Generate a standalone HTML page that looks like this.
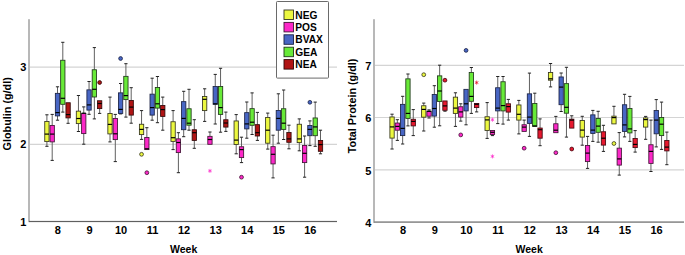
<!DOCTYPE html>
<html><head><meta charset="utf-8"><style>
html,body{margin:0;padding:0;background:#fff;}
body{width:685px;height:255px;overflow:hidden;}
svg{display:block;}
</style></head><body>
<svg width="685" height="255" viewBox="0 0 685 255">
<style>
.t { font-family: "Liberation Sans", sans-serif; font-weight: bold; font-size: 11px; fill: #000; }
.wk { font-size: 10.5px; }
.lg { font-size: 10.2px; }
.ti { font-size: 10.8px; }
.g { stroke: #d4d4d4; stroke-width: 1.2; }
.w { stroke: #606060; stroke-width: 1; }
.c { stroke: #222; stroke-width: 1; }
.b { stroke-width: 0.85; }
.m { stroke: #000; stroke-width: 1.2; }
.ast { font-family: "Liberation Sans", sans-serif; font-size: 8px; text-anchor: middle; }
</style>
<rect width="685" height="255" fill="#fff"/>
<line x1="29.0" y1="144.30" x2="337.0" y2="144.30" class="g"/>
<line x1="29.0" y1="67.10" x2="337.0" y2="67.10" class="g"/>
<rect x="28.0" y="19.2" width="2" height="202.9" fill="#b8b8b8"/>
<rect x="29.0" y="220.9" width="308.0" height="1.2" fill="#606060"/>
<text x="26.4" y="225.6" class="t" text-anchor="end">1</text>
<text x="26.4" y="148.4" class="t" text-anchor="end">2</text>
<text x="26.4" y="71.2" class="t" text-anchor="end">3</text>
<text x="57.9" y="233.6" class="t" text-anchor="middle">8</text>
<text x="89.5" y="233.6" class="t" text-anchor="middle">9</text>
<text x="121.0" y="233.6" class="t" text-anchor="middle">10</text>
<text x="152.6" y="233.6" class="t" text-anchor="middle">11</text>
<text x="184.1" y="233.6" class="t" text-anchor="middle">12</text>
<text x="215.7" y="233.6" class="t" text-anchor="middle">13</text>
<text x="247.2" y="233.6" class="t" text-anchor="middle">14</text>
<text x="278.8" y="233.6" class="t" text-anchor="middle">15</text>
<text x="310.3" y="233.6" class="t" text-anchor="middle">16</text>
<text x="183.7" y="252.6" class="t wk" text-anchor="middle">Week</text>
<text transform="translate(10.6,113.8) rotate(-90)" class="t ti" text-anchor="middle">Globulin (g/dl)</text>
<line x1="374.0" y1="169.90" x2="684.0" y2="169.90" class="g"/>
<line x1="374.0" y1="117.50" x2="684.0" y2="117.50" class="g"/>
<line x1="374.0" y1="65.30" x2="684.0" y2="65.30" class="g"/>
<rect x="373.0" y="19.2" width="2" height="203.7" fill="#b8b8b8"/>
<rect x="374.0" y="221.3" width="310.0" height="1.6" fill="#8c8c8c"/>
<text x="371.4" y="226.8" class="t" text-anchor="end">4</text>
<text x="371.4" y="174.6" class="t" text-anchor="end">5</text>
<text x="371.4" y="122.2" class="t" text-anchor="end">6</text>
<text x="371.4" y="70.0" class="t" text-anchor="end">7</text>
<text x="403.0" y="233.6" class="t" text-anchor="middle">8</text>
<text x="434.7" y="233.6" class="t" text-anchor="middle">9</text>
<text x="466.4" y="233.6" class="t" text-anchor="middle">10</text>
<text x="498.1" y="233.6" class="t" text-anchor="middle">11</text>
<text x="529.8" y="233.6" class="t" text-anchor="middle">12</text>
<text x="561.5" y="233.6" class="t" text-anchor="middle">13</text>
<text x="593.2" y="233.6" class="t" text-anchor="middle">14</text>
<text x="624.9" y="233.6" class="t" text-anchor="middle">15</text>
<text x="656.6" y="233.6" class="t" text-anchor="middle">16</text>
<text x="529.2" y="252.6" class="t wk" text-anchor="middle">Week</text>
<text transform="translate(356.2,105.9) rotate(-90)" class="t ti" text-anchor="middle">Total Protein (g/dl)</text>
<line x1="46.90" y1="114.80" x2="46.90" y2="121.55" class="w"/>
<line x1="45.30" y1="114.80" x2="48.50" y2="114.80" class="c"/>
<line x1="46.90" y1="141.60" x2="46.90" y2="146.30" class="w"/>
<line x1="45.30" y1="146.30" x2="48.50" y2="146.30" class="c"/>
<rect x="44.75" y="121.55" width="4.30" height="20.05" fill="#ecf840" stroke="#34341e" class="b"/>
<line x1="44.75" y1="134.10" x2="49.05" y2="134.10" class="m"/>
<line x1="52.20" y1="114.40" x2="52.20" y2="125.45" class="w"/>
<line x1="50.60" y1="114.40" x2="53.80" y2="114.40" class="c"/>
<line x1="52.20" y1="141.90" x2="52.20" y2="160.40" class="w"/>
<line x1="50.60" y1="160.40" x2="53.80" y2="160.40" class="c"/>
<rect x="50.05" y="125.45" width="4.30" height="16.45" fill="#fc28c8" stroke="#401434" class="b"/>
<line x1="50.05" y1="134.10" x2="54.35" y2="134.10" class="m"/>
<line x1="57.50" y1="86.80" x2="57.50" y2="93.35" class="w"/>
<line x1="55.90" y1="86.80" x2="59.10" y2="86.80" class="c"/>
<line x1="57.50" y1="115.90" x2="57.50" y2="120.20" class="w"/>
<line x1="55.90" y1="120.20" x2="59.10" y2="120.20" class="c"/>
<rect x="55.35" y="93.35" width="4.30" height="22.55" fill="#4866c4" stroke="#1a2244" class="b"/>
<line x1="55.35" y1="112.60" x2="59.65" y2="112.60" class="m"/>
<line x1="62.80" y1="42.30" x2="62.80" y2="60.25" class="w"/>
<line x1="61.20" y1="42.30" x2="64.40" y2="42.30" class="c"/>
<line x1="62.80" y1="104.30" x2="62.80" y2="112.10" class="w"/>
<line x1="61.20" y1="112.10" x2="64.40" y2="112.10" class="c"/>
<rect x="60.65" y="60.25" width="4.30" height="44.05" fill="#68ea38" stroke="#20381a" class="b"/>
<line x1="60.65" y1="98.30" x2="64.95" y2="98.30" class="m"/>
<line x1="68.10" y1="117.90" x2="68.10" y2="123.30" class="w"/>
<line x1="66.50" y1="123.30" x2="69.70" y2="123.30" class="c"/>
<rect x="65.95" y="102.75" width="4.30" height="15.15" fill="#b01414" stroke="#300808" class="b"/>
<line x1="65.95" y1="114.60" x2="70.25" y2="114.60" class="m"/>
<line x1="78.45" y1="95.50" x2="78.45" y2="111.15" class="w"/>
<line x1="76.85" y1="95.50" x2="80.05" y2="95.50" class="c"/>
<line x1="78.45" y1="123.60" x2="78.45" y2="131.50" class="w"/>
<line x1="76.85" y1="131.50" x2="80.05" y2="131.50" class="c"/>
<rect x="76.30" y="111.15" width="4.30" height="12.45" fill="#ecf840" stroke="#34341e" class="b"/>
<line x1="76.30" y1="118.50" x2="80.60" y2="118.50" class="m"/>
<line x1="83.75" y1="106.90" x2="83.75" y2="113.55" class="w"/>
<line x1="82.15" y1="106.90" x2="85.35" y2="106.90" class="c"/>
<line x1="83.75" y1="133.60" x2="83.75" y2="144.20" class="w"/>
<line x1="82.15" y1="144.20" x2="85.35" y2="144.20" class="c"/>
<rect x="81.60" y="113.55" width="4.30" height="20.05" fill="#fc28c8" stroke="#401434" class="b"/>
<line x1="81.60" y1="113.20" x2="85.90" y2="113.20" class="m"/>
<line x1="89.05" y1="81.50" x2="89.05" y2="89.85" class="w"/>
<line x1="87.45" y1="81.50" x2="90.65" y2="81.50" class="c"/>
<line x1="89.05" y1="110.10" x2="89.05" y2="114.30" class="w"/>
<line x1="87.45" y1="114.30" x2="90.65" y2="114.30" class="c"/>
<rect x="86.90" y="89.85" width="4.30" height="20.25" fill="#4866c4" stroke="#1a2244" class="b"/>
<line x1="86.90" y1="104.90" x2="91.20" y2="104.90" class="m"/>
<line x1="94.35" y1="47.60" x2="94.35" y2="69.75" class="w"/>
<line x1="92.75" y1="47.60" x2="95.95" y2="47.60" class="c"/>
<line x1="94.35" y1="97.00" x2="94.35" y2="118.90" class="w"/>
<line x1="92.75" y1="118.90" x2="95.95" y2="118.90" class="c"/>
<rect x="92.20" y="69.75" width="4.30" height="27.25" fill="#68ea38" stroke="#20381a" class="b"/>
<line x1="92.20" y1="89.30" x2="96.50" y2="89.30" class="m"/>
<line x1="99.65" y1="108.60" x2="99.65" y2="113.40" class="w"/>
<line x1="98.05" y1="113.40" x2="101.25" y2="113.40" class="c"/>
<rect x="97.50" y="100.75" width="4.30" height="7.85" fill="#b01414" stroke="#300808" class="b"/>
<line x1="97.50" y1="103.50" x2="101.80" y2="103.50" class="m"/>
<line x1="110.00" y1="97.10" x2="110.00" y2="113.45" class="w"/>
<line x1="108.40" y1="97.10" x2="111.60" y2="97.10" class="c"/>
<line x1="110.00" y1="133.90" x2="110.00" y2="141.90" class="w"/>
<line x1="108.40" y1="141.90" x2="111.60" y2="141.90" class="c"/>
<rect x="107.85" y="113.45" width="4.30" height="20.45" fill="#ecf840" stroke="#34341e" class="b"/>
<line x1="107.85" y1="124.40" x2="112.15" y2="124.40" class="m"/>
<line x1="115.30" y1="114.40" x2="115.30" y2="118.55" class="w"/>
<line x1="113.70" y1="114.40" x2="116.90" y2="114.40" class="c"/>
<line x1="115.30" y1="139.60" x2="115.30" y2="161.60" class="w"/>
<line x1="113.70" y1="161.60" x2="116.90" y2="161.60" class="c"/>
<rect x="113.15" y="118.55" width="4.30" height="21.05" fill="#fc28c8" stroke="#401434" class="b"/>
<line x1="113.15" y1="133.80" x2="117.45" y2="133.80" class="m"/>
<line x1="120.60" y1="83.50" x2="120.60" y2="92.85" class="w"/>
<line x1="119.00" y1="83.50" x2="122.20" y2="83.50" class="c"/>
<line x1="120.60" y1="113.40" x2="120.60" y2="113.90" class="w"/>
<line x1="119.00" y1="113.90" x2="122.20" y2="113.90" class="c"/>
<rect x="118.45" y="92.85" width="4.30" height="20.55" fill="#4866c4" stroke="#1a2244" class="b"/>
<line x1="118.45" y1="109.40" x2="122.75" y2="109.40" class="m"/>
<line x1="125.90" y1="63.70" x2="125.90" y2="76.35" class="w"/>
<line x1="124.30" y1="63.70" x2="127.50" y2="63.70" class="c"/>
<line x1="125.90" y1="99.60" x2="125.90" y2="117.10" class="w"/>
<line x1="124.30" y1="117.10" x2="127.50" y2="117.10" class="c"/>
<rect x="123.75" y="76.35" width="4.30" height="23.25" fill="#68ea38" stroke="#20381a" class="b"/>
<line x1="123.75" y1="95.60" x2="128.05" y2="95.60" class="m"/>
<line x1="131.20" y1="87.70" x2="131.20" y2="100.45" class="w"/>
<line x1="129.60" y1="87.70" x2="132.80" y2="87.70" class="c"/>
<line x1="131.20" y1="115.10" x2="131.20" y2="123.20" class="w"/>
<line x1="129.60" y1="123.20" x2="132.80" y2="123.20" class="c"/>
<rect x="129.05" y="100.45" width="4.30" height="14.65" fill="#b01414" stroke="#300808" class="b"/>
<line x1="129.05" y1="107.10" x2="133.35" y2="107.10" class="m"/>
<line x1="141.55" y1="110.60" x2="141.55" y2="124.25" class="w"/>
<line x1="139.95" y1="110.60" x2="143.15" y2="110.60" class="c"/>
<line x1="141.55" y1="134.60" x2="141.55" y2="139.40" class="w"/>
<line x1="139.95" y1="139.40" x2="143.15" y2="139.40" class="c"/>
<rect x="139.40" y="124.25" width="4.30" height="10.35" fill="#ecf840" stroke="#34341e" class="b"/>
<line x1="139.40" y1="129.40" x2="143.70" y2="129.40" class="m"/>
<line x1="146.85" y1="127.70" x2="146.85" y2="137.45" class="w"/>
<line x1="145.25" y1="127.70" x2="148.45" y2="127.70" class="c"/>
<rect x="144.70" y="137.45" width="4.30" height="12.15" fill="#fc28c8" stroke="#401434" class="b"/>
<line x1="144.70" y1="148.80" x2="149.00" y2="148.80" class="m"/>
<line x1="152.15" y1="78.20" x2="152.15" y2="94.15" class="w"/>
<line x1="150.55" y1="78.20" x2="153.75" y2="78.20" class="c"/>
<line x1="152.15" y1="115.10" x2="152.15" y2="120.20" class="w"/>
<line x1="150.55" y1="120.20" x2="153.75" y2="120.20" class="c"/>
<rect x="150.00" y="94.15" width="4.30" height="20.95" fill="#4866c4" stroke="#1a2244" class="b"/>
<line x1="150.00" y1="107.60" x2="154.30" y2="107.60" class="m"/>
<line x1="157.45" y1="76.50" x2="157.45" y2="87.45" class="w"/>
<line x1="155.85" y1="76.50" x2="159.05" y2="76.50" class="c"/>
<line x1="157.45" y1="108.10" x2="157.45" y2="122.70" class="w"/>
<line x1="155.85" y1="122.70" x2="159.05" y2="122.70" class="c"/>
<rect x="155.30" y="87.45" width="4.30" height="20.65" fill="#68ea38" stroke="#20381a" class="b"/>
<line x1="155.30" y1="103.80" x2="159.60" y2="103.80" class="m"/>
<line x1="162.75" y1="97.10" x2="162.75" y2="105.45" class="w"/>
<line x1="161.15" y1="97.10" x2="164.35" y2="97.10" class="c"/>
<line x1="162.75" y1="116.40" x2="162.75" y2="130.20" class="w"/>
<line x1="161.15" y1="130.20" x2="164.35" y2="130.20" class="c"/>
<rect x="160.60" y="105.45" width="4.30" height="10.95" fill="#b01414" stroke="#300808" class="b"/>
<line x1="160.60" y1="109.60" x2="164.90" y2="109.60" class="m"/>
<line x1="173.10" y1="110.60" x2="173.10" y2="121.75" class="w"/>
<line x1="171.50" y1="110.60" x2="174.70" y2="110.60" class="c"/>
<line x1="173.10" y1="141.40" x2="173.10" y2="149.60" class="w"/>
<line x1="171.50" y1="149.60" x2="174.70" y2="149.60" class="c"/>
<rect x="170.95" y="121.75" width="4.30" height="19.65" fill="#ecf840" stroke="#34341e" class="b"/>
<line x1="170.95" y1="137.70" x2="175.25" y2="137.70" class="m"/>
<line x1="178.40" y1="132.70" x2="178.40" y2="138.85" class="w"/>
<line x1="176.80" y1="132.70" x2="180.00" y2="132.70" class="c"/>
<line x1="178.40" y1="152.60" x2="178.40" y2="172.70" class="w"/>
<line x1="176.80" y1="172.70" x2="180.00" y2="172.70" class="c"/>
<rect x="176.25" y="138.85" width="4.30" height="13.75" fill="#fc28c8" stroke="#401434" class="b"/>
<line x1="176.25" y1="142.50" x2="180.55" y2="142.50" class="m"/>
<line x1="183.70" y1="91.30" x2="183.70" y2="101.65" class="w"/>
<line x1="182.10" y1="91.30" x2="185.30" y2="91.30" class="c"/>
<line x1="183.70" y1="129.70" x2="183.70" y2="136.70" class="w"/>
<line x1="182.10" y1="136.70" x2="185.30" y2="136.70" class="c"/>
<rect x="181.55" y="101.65" width="4.30" height="28.05" fill="#4866c4" stroke="#1a2244" class="b"/>
<line x1="181.55" y1="118.40" x2="185.85" y2="118.40" class="m"/>
<line x1="189.00" y1="89.30" x2="189.00" y2="108.75" class="w"/>
<line x1="187.40" y1="89.30" x2="190.60" y2="89.30" class="c"/>
<line x1="189.00" y1="125.20" x2="189.00" y2="130.20" class="w"/>
<line x1="187.40" y1="130.20" x2="190.60" y2="130.20" class="c"/>
<rect x="186.85" y="108.75" width="4.30" height="16.45" fill="#68ea38" stroke="#20381a" class="b"/>
<line x1="186.85" y1="123.20" x2="191.15" y2="123.20" class="m"/>
<line x1="194.30" y1="119.70" x2="194.30" y2="129.75" class="w"/>
<line x1="192.70" y1="119.70" x2="195.90" y2="119.70" class="c"/>
<line x1="194.30" y1="140.40" x2="194.30" y2="148.30" class="w"/>
<line x1="192.70" y1="148.30" x2="195.90" y2="148.30" class="c"/>
<rect x="192.15" y="129.75" width="4.30" height="10.65" fill="#b01414" stroke="#300808" class="b"/>
<line x1="192.15" y1="132.70" x2="196.45" y2="132.70" class="m"/>
<line x1="204.65" y1="88.80" x2="204.65" y2="96.55" class="w"/>
<line x1="203.05" y1="88.80" x2="206.25" y2="88.80" class="c"/>
<line x1="204.65" y1="110.60" x2="204.65" y2="121.40" class="w"/>
<line x1="203.05" y1="121.40" x2="206.25" y2="121.40" class="c"/>
<rect x="202.50" y="96.55" width="4.30" height="14.05" fill="#ecf840" stroke="#34341e" class="b"/>
<line x1="202.50" y1="99.30" x2="206.80" y2="99.30" class="m"/>
<line x1="209.95" y1="132.00" x2="209.95" y2="136.35" class="w"/>
<line x1="208.35" y1="132.00" x2="211.55" y2="132.00" class="c"/>
<rect x="207.80" y="136.35" width="4.30" height="7.95" fill="#fc28c8" stroke="#401434" class="b"/>
<line x1="207.80" y1="139.50" x2="212.10" y2="139.50" class="m"/>
<line x1="215.25" y1="74.40" x2="215.25" y2="86.55" class="w"/>
<line x1="213.65" y1="74.40" x2="216.85" y2="74.40" class="c"/>
<line x1="215.25" y1="104.30" x2="215.25" y2="124.00" class="w"/>
<line x1="213.65" y1="124.00" x2="216.85" y2="124.00" class="c"/>
<rect x="213.10" y="86.55" width="4.30" height="17.75" fill="#4866c4" stroke="#1a2244" class="b"/>
<line x1="213.10" y1="103.80" x2="217.40" y2="103.80" class="m"/>
<line x1="220.55" y1="68.30" x2="220.55" y2="86.45" class="w"/>
<line x1="218.95" y1="68.30" x2="222.15" y2="68.30" class="c"/>
<line x1="220.55" y1="114.40" x2="220.55" y2="132.20" class="w"/>
<line x1="218.95" y1="132.20" x2="222.15" y2="132.20" class="c"/>
<rect x="218.40" y="86.45" width="4.30" height="27.95" fill="#68ea38" stroke="#20381a" class="b"/>
<line x1="218.40" y1="107.60" x2="222.70" y2="107.60" class="m"/>
<line x1="225.85" y1="112.10" x2="225.85" y2="119.75" class="w"/>
<line x1="224.25" y1="112.10" x2="227.45" y2="112.10" class="c"/>
<line x1="225.85" y1="127.10" x2="225.85" y2="131.40" class="w"/>
<line x1="224.25" y1="131.40" x2="227.45" y2="131.40" class="c"/>
<rect x="223.70" y="119.75" width="4.30" height="7.35" fill="#b01414" stroke="#300808" class="b"/>
<line x1="223.70" y1="123.00" x2="228.00" y2="123.00" class="m"/>
<line x1="236.20" y1="114.60" x2="236.20" y2="120.95" class="w"/>
<line x1="234.60" y1="114.60" x2="237.80" y2="114.60" class="c"/>
<line x1="236.20" y1="144.50" x2="236.20" y2="153.80" class="w"/>
<line x1="234.60" y1="153.80" x2="237.80" y2="153.80" class="c"/>
<rect x="234.05" y="120.95" width="4.30" height="23.55" fill="#ecf840" stroke="#34341e" class="b"/>
<line x1="234.05" y1="140.10" x2="238.35" y2="140.10" class="m"/>
<line x1="241.50" y1="137.20" x2="241.50" y2="146.75" class="w"/>
<line x1="239.90" y1="137.20" x2="243.10" y2="137.20" class="c"/>
<line x1="241.50" y1="157.60" x2="241.50" y2="162.60" class="w"/>
<line x1="239.90" y1="162.60" x2="243.10" y2="162.60" class="c"/>
<rect x="239.35" y="146.75" width="4.30" height="10.85" fill="#fc28c8" stroke="#401434" class="b"/>
<line x1="239.35" y1="149.60" x2="243.65" y2="149.60" class="m"/>
<line x1="246.80" y1="102.00" x2="246.80" y2="112.65" class="w"/>
<line x1="245.20" y1="102.00" x2="248.40" y2="102.00" class="c"/>
<line x1="246.80" y1="128.90" x2="246.80" y2="138.20" class="w"/>
<line x1="245.20" y1="138.20" x2="248.40" y2="138.20" class="c"/>
<rect x="244.65" y="112.65" width="4.30" height="16.25" fill="#4866c4" stroke="#1a2244" class="b"/>
<line x1="244.65" y1="123.90" x2="248.95" y2="123.90" class="m"/>
<line x1="252.10" y1="92.90" x2="252.10" y2="108.65" class="w"/>
<line x1="250.50" y1="92.90" x2="253.70" y2="92.90" class="c"/>
<line x1="252.10" y1="125.30" x2="252.10" y2="134.50" class="w"/>
<line x1="250.50" y1="134.50" x2="253.70" y2="134.50" class="c"/>
<rect x="249.95" y="108.65" width="4.30" height="16.65" fill="#68ea38" stroke="#20381a" class="b"/>
<line x1="249.95" y1="122.20" x2="254.25" y2="122.20" class="m"/>
<line x1="257.40" y1="112.40" x2="257.40" y2="124.65" class="w"/>
<line x1="255.80" y1="112.40" x2="259.00" y2="112.40" class="c"/>
<line x1="257.40" y1="136.00" x2="257.40" y2="140.40" class="w"/>
<line x1="255.80" y1="140.40" x2="259.00" y2="140.40" class="c"/>
<rect x="255.25" y="124.65" width="4.30" height="11.35" fill="#b01414" stroke="#300808" class="b"/>
<line x1="255.25" y1="132.70" x2="259.55" y2="132.70" class="m"/>
<line x1="267.75" y1="113.10" x2="267.75" y2="117.45" class="w"/>
<line x1="266.15" y1="113.10" x2="269.35" y2="113.10" class="c"/>
<line x1="267.75" y1="143.20" x2="267.75" y2="149.10" class="w"/>
<line x1="266.15" y1="149.10" x2="269.35" y2="149.10" class="c"/>
<rect x="265.60" y="117.45" width="4.30" height="25.75" fill="#ecf840" stroke="#34341e" class="b"/>
<line x1="265.60" y1="130.20" x2="269.90" y2="130.20" class="m"/>
<line x1="273.05" y1="135.20" x2="273.05" y2="146.65" class="w"/>
<line x1="271.45" y1="135.20" x2="274.65" y2="135.20" class="c"/>
<line x1="273.05" y1="163.90" x2="273.05" y2="177.90" class="w"/>
<line x1="271.45" y1="177.90" x2="274.65" y2="177.90" class="c"/>
<rect x="270.90" y="146.65" width="4.30" height="17.25" fill="#fc28c8" stroke="#401434" class="b"/>
<line x1="270.90" y1="154.30" x2="275.20" y2="154.30" class="m"/>
<line x1="278.35" y1="93.80" x2="278.35" y2="110.45" class="w"/>
<line x1="276.75" y1="93.80" x2="279.95" y2="93.80" class="c"/>
<line x1="278.35" y1="130.20" x2="278.35" y2="143.20" class="w"/>
<line x1="276.75" y1="143.20" x2="279.95" y2="143.20" class="c"/>
<rect x="276.20" y="110.45" width="4.30" height="19.75" fill="#4866c4" stroke="#1a2244" class="b"/>
<line x1="276.20" y1="118.40" x2="280.50" y2="118.40" class="m"/>
<line x1="283.65" y1="90.00" x2="283.65" y2="108.75" class="w"/>
<line x1="282.05" y1="90.00" x2="285.25" y2="90.00" class="c"/>
<line x1="283.65" y1="129.40" x2="283.65" y2="139.50" class="w"/>
<line x1="282.05" y1="139.50" x2="285.25" y2="139.50" class="c"/>
<rect x="281.50" y="108.75" width="4.30" height="20.65" fill="#68ea38" stroke="#20381a" class="b"/>
<line x1="281.50" y1="123.20" x2="285.80" y2="123.20" class="m"/>
<line x1="288.95" y1="125.20" x2="288.95" y2="132.55" class="w"/>
<line x1="287.35" y1="125.20" x2="290.55" y2="125.20" class="c"/>
<line x1="288.95" y1="142.30" x2="288.95" y2="148.80" class="w"/>
<line x1="287.35" y1="148.80" x2="290.55" y2="148.80" class="c"/>
<rect x="286.80" y="132.55" width="4.30" height="9.75" fill="#b01414" stroke="#300808" class="b"/>
<line x1="286.80" y1="138.90" x2="291.10" y2="138.90" class="m"/>
<line x1="299.30" y1="118.90" x2="299.30" y2="124.25" class="w"/>
<line x1="297.70" y1="118.90" x2="300.90" y2="118.90" class="c"/>
<line x1="299.30" y1="142.60" x2="299.30" y2="150.80" class="w"/>
<line x1="297.70" y1="150.80" x2="300.90" y2="150.80" class="c"/>
<rect x="297.15" y="124.25" width="4.30" height="18.35" fill="#ecf840" stroke="#34341e" class="b"/>
<line x1="297.15" y1="138.90" x2="301.45" y2="138.90" class="m"/>
<line x1="304.60" y1="136.00" x2="304.60" y2="145.45" class="w"/>
<line x1="303.00" y1="136.00" x2="306.20" y2="136.00" class="c"/>
<line x1="304.60" y1="162.60" x2="304.60" y2="177.20" class="w"/>
<line x1="303.00" y1="177.20" x2="306.20" y2="177.20" class="c"/>
<rect x="302.45" y="145.45" width="4.30" height="17.15" fill="#fc28c8" stroke="#401434" class="b"/>
<line x1="302.45" y1="153.30" x2="306.75" y2="153.30" class="m"/>
<line x1="309.90" y1="120.90" x2="309.90" y2="125.55" class="w"/>
<line x1="308.30" y1="120.90" x2="311.50" y2="120.90" class="c"/>
<line x1="309.90" y1="135.70" x2="309.90" y2="145.60" class="w"/>
<line x1="308.30" y1="145.60" x2="311.50" y2="145.60" class="c"/>
<rect x="307.75" y="125.55" width="4.30" height="10.15" fill="#4866c4" stroke="#1a2244" class="b"/>
<line x1="307.75" y1="129.40" x2="312.05" y2="129.40" class="m"/>
<line x1="315.20" y1="102.10" x2="315.20" y2="117.95" class="w"/>
<line x1="313.60" y1="102.10" x2="316.80" y2="102.10" class="c"/>
<line x1="315.20" y1="135.70" x2="315.20" y2="146.30" class="w"/>
<line x1="313.60" y1="146.30" x2="316.80" y2="146.30" class="c"/>
<rect x="313.05" y="117.95" width="4.30" height="17.75" fill="#68ea38" stroke="#20381a" class="b"/>
<line x1="313.05" y1="126.90" x2="317.35" y2="126.90" class="m"/>
<line x1="320.50" y1="130.20" x2="320.50" y2="140.45" class="w"/>
<line x1="318.90" y1="130.20" x2="322.10" y2="130.20" class="c"/>
<line x1="320.50" y1="151.30" x2="320.50" y2="153.80" class="w"/>
<line x1="318.90" y1="153.80" x2="322.10" y2="153.80" class="c"/>
<rect x="318.35" y="140.45" width="4.30" height="10.85" fill="#b01414" stroke="#300808" class="b"/>
<line x1="318.35" y1="144.60" x2="322.65" y2="144.60" class="m"/>
<circle cx="99.65" cy="82.50" r="1.9" fill="#b01414" stroke="#300808" stroke-width="0.8"/>
<circle cx="120.60" cy="58.50" r="1.9" fill="#4866c4" stroke="#1a2244" stroke-width="0.8"/>
<circle cx="141.55" cy="154.30" r="1.9" fill="#ecf840" stroke="#34341e" stroke-width="0.8"/>
<circle cx="146.85" cy="172.70" r="1.9" fill="#fc28c8" stroke="#401434" stroke-width="0.8"/>
<path d="M209.95 168.90V172.90M208.22 169.90L211.68 171.90M208.22 171.90L211.68 169.90" stroke="#fc28c8" stroke-width="0.75" fill="none"/>
<circle cx="241.50" cy="177.20" r="1.9" fill="#fc28c8" stroke="#401434" stroke-width="0.8"/>
<circle cx="309.90" cy="102.30" r="1.9" fill="#4866c4" stroke="#1a2244" stroke-width="0.8"/>
<line x1="392.05" y1="114.20" x2="392.05" y2="116.95" class="w"/>
<line x1="390.45" y1="114.20" x2="393.65" y2="114.20" class="c"/>
<line x1="392.05" y1="138.10" x2="392.05" y2="149.00" class="w"/>
<line x1="390.45" y1="149.00" x2="393.65" y2="149.00" class="c"/>
<rect x="389.90" y="116.95" width="4.30" height="21.15" fill="#ecf840" stroke="#34341e" class="b"/>
<line x1="389.90" y1="126.90" x2="394.20" y2="126.90" class="m"/>
<line x1="397.35" y1="119.70" x2="397.35" y2="123.05" class="w"/>
<line x1="395.75" y1="119.70" x2="398.95" y2="119.70" class="c"/>
<line x1="397.35" y1="130.20" x2="397.35" y2="140.40" class="w"/>
<line x1="395.75" y1="140.40" x2="398.95" y2="140.40" class="c"/>
<rect x="395.20" y="123.05" width="4.30" height="7.15" fill="#fc28c8" stroke="#401434" class="b"/>
<line x1="395.20" y1="126.40" x2="399.50" y2="126.40" class="m"/>
<line x1="402.65" y1="96.30" x2="402.65" y2="104.35" class="w"/>
<line x1="401.05" y1="96.30" x2="404.25" y2="96.30" class="c"/>
<line x1="402.65" y1="135.60" x2="402.65" y2="144.00" class="w"/>
<line x1="401.05" y1="144.00" x2="404.25" y2="144.00" class="c"/>
<rect x="400.50" y="104.35" width="4.30" height="31.25" fill="#4866c4" stroke="#1a2244" class="b"/>
<line x1="400.50" y1="128.40" x2="404.80" y2="128.40" class="m"/>
<line x1="407.95" y1="74.00" x2="407.95" y2="78.85" class="w"/>
<line x1="406.35" y1="74.00" x2="409.55" y2="74.00" class="c"/>
<line x1="407.95" y1="118.40" x2="407.95" y2="125.90" class="w"/>
<line x1="406.35" y1="125.90" x2="409.55" y2="125.90" class="c"/>
<rect x="405.80" y="78.85" width="4.30" height="39.55" fill="#68ea38" stroke="#20381a" class="b"/>
<line x1="405.80" y1="113.40" x2="410.10" y2="113.40" class="m"/>
<line x1="413.25" y1="109.60" x2="413.25" y2="119.25" class="w"/>
<line x1="411.65" y1="109.60" x2="414.85" y2="109.60" class="c"/>
<line x1="413.25" y1="125.90" x2="413.25" y2="135.60" class="w"/>
<line x1="411.65" y1="135.60" x2="414.85" y2="135.60" class="c"/>
<rect x="411.10" y="119.25" width="4.30" height="6.65" fill="#e6182e" stroke="#400810" class="b"/>
<line x1="411.10" y1="121.40" x2="415.40" y2="121.40" class="m"/>
<line x1="423.75" y1="103.10" x2="423.75" y2="105.75" class="w"/>
<line x1="422.15" y1="103.10" x2="425.35" y2="103.10" class="c"/>
<line x1="423.75" y1="117.20" x2="423.75" y2="131.00" class="w"/>
<line x1="422.15" y1="131.00" x2="425.35" y2="131.00" class="c"/>
<rect x="421.60" y="105.75" width="4.30" height="11.45" fill="#ecf840" stroke="#34341e" class="b"/>
<line x1="421.60" y1="109.40" x2="425.90" y2="109.40" class="m"/>
<line x1="429.05" y1="109.90" x2="429.05" y2="111.35" class="w"/>
<line x1="427.45" y1="109.90" x2="430.65" y2="109.90" class="c"/>
<line x1="429.05" y1="116.20" x2="429.05" y2="118.00" class="w"/>
<line x1="427.45" y1="118.00" x2="430.65" y2="118.00" class="c"/>
<rect x="426.90" y="111.35" width="4.30" height="4.85" fill="#fc28c8" stroke="#401434" class="b"/>
<line x1="426.90" y1="111.30" x2="431.20" y2="111.30" class="m"/>
<line x1="434.35" y1="85.70" x2="434.35" y2="94.45" class="w"/>
<line x1="432.75" y1="85.70" x2="435.95" y2="85.70" class="c"/>
<line x1="434.35" y1="116.10" x2="434.35" y2="127.20" class="w"/>
<line x1="432.75" y1="127.20" x2="435.95" y2="127.20" class="c"/>
<rect x="432.20" y="94.45" width="4.30" height="21.65" fill="#4866c4" stroke="#1a2244" class="b"/>
<line x1="432.20" y1="108.50" x2="436.50" y2="108.50" class="m"/>
<line x1="439.65" y1="65.20" x2="439.65" y2="75.85" class="w"/>
<line x1="438.05" y1="65.20" x2="441.25" y2="65.20" class="c"/>
<line x1="439.65" y1="101.50" x2="439.65" y2="125.80" class="w"/>
<line x1="438.05" y1="125.80" x2="441.25" y2="125.80" class="c"/>
<rect x="437.50" y="75.85" width="4.30" height="25.65" fill="#68ea38" stroke="#20381a" class="b"/>
<line x1="437.50" y1="91.00" x2="441.80" y2="91.00" class="m"/>
<line x1="444.95" y1="110.30" x2="444.95" y2="111.20" class="w"/>
<line x1="443.35" y1="111.20" x2="446.55" y2="111.20" class="c"/>
<rect x="442.80" y="100.95" width="4.30" height="9.35" fill="#e6182e" stroke="#400810" class="b"/>
<line x1="442.80" y1="105.90" x2="447.10" y2="105.90" class="m"/>
<line x1="455.45" y1="92.80" x2="455.45" y2="97.15" class="w"/>
<line x1="453.85" y1="92.80" x2="457.05" y2="92.80" class="c"/>
<line x1="455.45" y1="113.40" x2="455.45" y2="126.40" class="w"/>
<line x1="453.85" y1="126.40" x2="457.05" y2="126.40" class="c"/>
<rect x="453.30" y="97.15" width="4.30" height="16.25" fill="#ecf840" stroke="#34341e" class="b"/>
<line x1="453.30" y1="108.10" x2="457.60" y2="108.10" class="m"/>
<line x1="460.75" y1="103.80" x2="460.75" y2="106.75" class="w"/>
<line x1="459.15" y1="103.80" x2="462.35" y2="103.80" class="c"/>
<line x1="460.75" y1="117.10" x2="460.75" y2="121.10" class="w"/>
<line x1="459.15" y1="121.10" x2="462.35" y2="121.10" class="c"/>
<rect x="458.60" y="106.75" width="4.30" height="10.35" fill="#fc28c8" stroke="#401434" class="b"/>
<line x1="458.60" y1="111.90" x2="462.90" y2="111.90" class="m"/>
<line x1="466.05" y1="110.90" x2="466.05" y2="124.80" class="w"/>
<line x1="464.45" y1="124.80" x2="467.65" y2="124.80" class="c"/>
<rect x="463.90" y="89.35" width="4.30" height="21.55" fill="#4866c4" stroke="#1a2244" class="b"/>
<line x1="463.90" y1="103.80" x2="468.20" y2="103.80" class="m"/>
<line x1="471.35" y1="67.50" x2="471.35" y2="72.55" class="w"/>
<line x1="469.75" y1="67.50" x2="472.95" y2="67.50" class="c"/>
<line x1="471.35" y1="101.30" x2="471.35" y2="113.40" class="w"/>
<line x1="469.75" y1="113.40" x2="472.95" y2="113.40" class="c"/>
<rect x="469.20" y="72.55" width="4.30" height="28.75" fill="#68ea38" stroke="#20381a" class="b"/>
<line x1="469.20" y1="96.40" x2="473.50" y2="96.40" class="m"/>
<line x1="476.65" y1="107.60" x2="476.65" y2="111.90" class="w"/>
<line x1="475.05" y1="111.90" x2="478.25" y2="111.90" class="c"/>
<rect x="474.50" y="103.45" width="4.30" height="4.15" fill="#e6182e" stroke="#400810" class="b"/>
<line x1="474.50" y1="104.30" x2="478.80" y2="104.30" class="m"/>
<line x1="487.15" y1="102.60" x2="487.15" y2="116.75" class="w"/>
<line x1="485.55" y1="102.60" x2="488.75" y2="102.60" class="c"/>
<line x1="487.15" y1="130.50" x2="487.15" y2="138.40" class="w"/>
<line x1="485.55" y1="138.40" x2="488.75" y2="138.40" class="c"/>
<rect x="485.00" y="116.75" width="4.30" height="13.75" fill="#ecf840" stroke="#34341e" class="b"/>
<line x1="485.00" y1="119.90" x2="489.30" y2="119.90" class="m"/>
<line x1="492.45" y1="134.50" x2="492.45" y2="135.60" class="w"/>
<line x1="490.85" y1="135.60" x2="494.05" y2="135.60" class="c"/>
<rect x="490.30" y="130.45" width="4.30" height="4.05" fill="#fc28c8" stroke="#401434" class="b"/>
<line x1="490.30" y1="132.30" x2="494.60" y2="132.30" class="m"/>
<line x1="497.75" y1="76.50" x2="497.75" y2="87.75" class="w"/>
<line x1="496.15" y1="76.50" x2="499.35" y2="76.50" class="c"/>
<line x1="497.75" y1="110.90" x2="497.75" y2="123.60" class="w"/>
<line x1="496.15" y1="123.60" x2="499.35" y2="123.60" class="c"/>
<rect x="495.60" y="87.75" width="4.30" height="23.15" fill="#4866c4" stroke="#1a2244" class="b"/>
<line x1="495.60" y1="108.10" x2="499.90" y2="108.10" class="m"/>
<line x1="503.05" y1="76.50" x2="503.05" y2="81.75" class="w"/>
<line x1="501.45" y1="76.50" x2="504.65" y2="76.50" class="c"/>
<line x1="503.05" y1="110.90" x2="503.05" y2="124.10" class="w"/>
<line x1="501.45" y1="124.10" x2="504.65" y2="124.10" class="c"/>
<rect x="500.90" y="81.75" width="4.30" height="29.15" fill="#68ea38" stroke="#20381a" class="b"/>
<line x1="500.90" y1="105.60" x2="505.20" y2="105.60" class="m"/>
<line x1="508.35" y1="99.40" x2="508.35" y2="103.75" class="w"/>
<line x1="506.75" y1="99.40" x2="509.95" y2="99.40" class="c"/>
<line x1="508.35" y1="112.10" x2="508.35" y2="120.10" class="w"/>
<line x1="506.75" y1="120.10" x2="509.95" y2="120.10" class="c"/>
<rect x="506.20" y="103.75" width="4.30" height="8.35" fill="#e6182e" stroke="#400810" class="b"/>
<line x1="506.20" y1="106.60" x2="510.50" y2="106.60" class="m"/>
<line x1="518.85" y1="100.40" x2="518.85" y2="104.95" class="w"/>
<line x1="517.25" y1="100.40" x2="520.45" y2="100.40" class="c"/>
<line x1="518.85" y1="120.10" x2="518.85" y2="133.90" class="w"/>
<line x1="517.25" y1="133.90" x2="520.45" y2="133.90" class="c"/>
<rect x="516.70" y="104.95" width="4.30" height="15.15" fill="#ecf840" stroke="#34341e" class="b"/>
<line x1="516.70" y1="114.30" x2="521.00" y2="114.30" class="m"/>
<line x1="524.15" y1="120.10" x2="524.15" y2="124.75" class="w"/>
<line x1="522.55" y1="120.10" x2="525.75" y2="120.10" class="c"/>
<rect x="522.00" y="124.75" width="4.30" height="6.65" fill="#fc28c8" stroke="#401434" class="b"/>
<line x1="522.00" y1="127.10" x2="526.30" y2="127.10" class="m"/>
<line x1="529.45" y1="73.10" x2="529.45" y2="93.85" class="w"/>
<line x1="527.85" y1="73.10" x2="531.05" y2="73.10" class="c"/>
<line x1="529.45" y1="123.40" x2="529.45" y2="136.40" class="w"/>
<line x1="527.85" y1="136.40" x2="531.05" y2="136.40" class="c"/>
<rect x="527.30" y="93.85" width="4.30" height="29.55" fill="#4866c4" stroke="#1a2244" class="b"/>
<line x1="527.30" y1="117.10" x2="531.60" y2="117.10" class="m"/>
<line x1="534.75" y1="93.20" x2="534.75" y2="103.55" class="w"/>
<line x1="533.15" y1="93.20" x2="536.35" y2="93.20" class="c"/>
<rect x="532.60" y="103.55" width="4.30" height="22.85" fill="#68ea38" stroke="#20381a" class="b"/>
<line x1="532.60" y1="125.90" x2="536.90" y2="125.90" class="m"/>
<line x1="540.05" y1="118.90" x2="540.05" y2="128.05" class="w"/>
<line x1="538.45" y1="118.90" x2="541.65" y2="118.90" class="c"/>
<line x1="540.05" y1="138.20" x2="540.05" y2="145.70" class="w"/>
<line x1="538.45" y1="145.70" x2="541.65" y2="145.70" class="c"/>
<rect x="537.90" y="128.05" width="4.30" height="10.15" fill="#e6182e" stroke="#400810" class="b"/>
<line x1="537.90" y1="129.70" x2="542.20" y2="129.70" class="m"/>
<line x1="550.55" y1="63.50" x2="550.55" y2="72.45" class="w"/>
<line x1="548.95" y1="63.50" x2="552.15" y2="63.50" class="c"/>
<line x1="550.55" y1="80.20" x2="550.55" y2="86.90" class="w"/>
<line x1="548.95" y1="86.90" x2="552.15" y2="86.90" class="c"/>
<rect x="548.40" y="72.45" width="4.30" height="7.75" fill="#ecf840" stroke="#34341e" class="b"/>
<line x1="548.40" y1="78.80" x2="552.70" y2="78.80" class="m"/>
<line x1="555.85" y1="116.40" x2="555.85" y2="123.75" class="w"/>
<line x1="554.25" y1="116.40" x2="557.45" y2="116.40" class="c"/>
<rect x="553.70" y="123.75" width="4.30" height="8.95" fill="#fc28c8" stroke="#401434" class="b"/>
<line x1="553.70" y1="130.20" x2="558.00" y2="130.20" class="m"/>
<line x1="561.15" y1="73.00" x2="561.15" y2="76.95" class="w"/>
<line x1="559.55" y1="73.00" x2="562.75" y2="73.00" class="c"/>
<line x1="561.15" y1="104.70" x2="561.15" y2="111.50" class="w"/>
<line x1="559.55" y1="111.50" x2="562.75" y2="111.50" class="c"/>
<rect x="559.00" y="76.95" width="4.30" height="27.75" fill="#4866c4" stroke="#1a2244" class="b"/>
<line x1="559.00" y1="87.10" x2="563.30" y2="87.10" class="m"/>
<line x1="566.45" y1="67.30" x2="566.45" y2="83.65" class="w"/>
<line x1="564.85" y1="67.30" x2="568.05" y2="67.30" class="c"/>
<line x1="566.45" y1="113.20" x2="566.45" y2="137.10" class="w"/>
<line x1="564.85" y1="137.10" x2="568.05" y2="137.10" class="c"/>
<rect x="564.30" y="83.65" width="4.30" height="29.55" fill="#68ea38" stroke="#20381a" class="b"/>
<line x1="564.30" y1="107.30" x2="568.60" y2="107.30" class="m"/>
<line x1="571.75" y1="115.80" x2="571.75" y2="119.15" class="w"/>
<line x1="570.15" y1="115.80" x2="573.35" y2="115.80" class="c"/>
<rect x="569.60" y="119.15" width="4.30" height="8.95" fill="#e6182e" stroke="#400810" class="b"/>
<line x1="569.60" y1="120.10" x2="573.90" y2="120.10" class="m"/>
<line x1="582.25" y1="116.30" x2="582.25" y2="120.45" class="w"/>
<line x1="580.65" y1="116.30" x2="583.85" y2="116.30" class="c"/>
<line x1="582.25" y1="137.10" x2="582.25" y2="145.20" class="w"/>
<line x1="580.65" y1="145.20" x2="583.85" y2="145.20" class="c"/>
<rect x="580.10" y="120.45" width="4.30" height="16.65" fill="#ecf840" stroke="#34341e" class="b"/>
<line x1="580.10" y1="130.10" x2="584.40" y2="130.10" class="m"/>
<line x1="587.55" y1="136.40" x2="587.55" y2="145.45" class="w"/>
<line x1="585.95" y1="136.40" x2="589.15" y2="136.40" class="c"/>
<line x1="587.55" y1="161.60" x2="587.55" y2="168.40" class="w"/>
<line x1="585.95" y1="168.40" x2="589.15" y2="168.40" class="c"/>
<rect x="585.40" y="145.45" width="4.30" height="16.15" fill="#fc28c8" stroke="#401434" class="b"/>
<line x1="585.40" y1="153.10" x2="589.70" y2="153.10" class="m"/>
<line x1="592.85" y1="110.40" x2="592.85" y2="114.85" class="w"/>
<line x1="591.25" y1="110.40" x2="594.45" y2="110.40" class="c"/>
<line x1="592.85" y1="133.40" x2="592.85" y2="141.40" class="w"/>
<line x1="591.25" y1="141.40" x2="594.45" y2="141.40" class="c"/>
<rect x="590.70" y="114.85" width="4.30" height="18.55" fill="#4866c4" stroke="#1a2244" class="b"/>
<line x1="590.70" y1="130.10" x2="595.00" y2="130.10" class="m"/>
<line x1="598.15" y1="111.30" x2="598.15" y2="118.45" class="w"/>
<line x1="596.55" y1="111.30" x2="599.75" y2="111.30" class="c"/>
<line x1="598.15" y1="132.30" x2="598.15" y2="142.20" class="w"/>
<line x1="596.55" y1="142.20" x2="599.75" y2="142.20" class="c"/>
<rect x="596.00" y="118.45" width="4.30" height="13.85" fill="#68ea38" stroke="#20381a" class="b"/>
<line x1="596.00" y1="126.10" x2="600.30" y2="126.10" class="m"/>
<line x1="603.45" y1="125.30" x2="603.45" y2="131.75" class="w"/>
<line x1="601.85" y1="125.30" x2="605.05" y2="125.30" class="c"/>
<line x1="603.45" y1="145.10" x2="603.45" y2="151.40" class="w"/>
<line x1="601.85" y1="151.40" x2="605.05" y2="151.40" class="c"/>
<rect x="601.30" y="131.75" width="4.30" height="13.35" fill="#e6182e" stroke="#400810" class="b"/>
<line x1="601.30" y1="138.20" x2="605.60" y2="138.20" class="m"/>
<line x1="613.95" y1="106.30" x2="613.95" y2="116.15" class="w"/>
<line x1="612.35" y1="106.30" x2="615.55" y2="106.30" class="c"/>
<rect x="611.80" y="116.15" width="4.30" height="7.75" fill="#ecf840" stroke="#34341e" class="b"/>
<line x1="611.80" y1="117.60" x2="616.10" y2="117.60" class="m"/>
<line x1="619.25" y1="132.60" x2="619.25" y2="148.15" class="w"/>
<line x1="617.65" y1="132.60" x2="620.85" y2="132.60" class="c"/>
<line x1="619.25" y1="165.10" x2="619.25" y2="175.10" class="w"/>
<line x1="617.65" y1="175.10" x2="620.85" y2="175.10" class="c"/>
<rect x="617.10" y="148.15" width="4.30" height="16.95" fill="#fc28c8" stroke="#401434" class="b"/>
<line x1="617.10" y1="158.90" x2="621.40" y2="158.90" class="m"/>
<line x1="624.55" y1="94.30" x2="624.55" y2="104.75" class="w"/>
<line x1="622.95" y1="94.30" x2="626.15" y2="94.30" class="c"/>
<line x1="624.55" y1="131.40" x2="624.55" y2="136.90" class="w"/>
<line x1="622.95" y1="136.90" x2="626.15" y2="136.90" class="c"/>
<rect x="622.40" y="104.75" width="4.30" height="26.65" fill="#4866c4" stroke="#1a2244" class="b"/>
<line x1="622.40" y1="124.90" x2="626.70" y2="124.90" class="m"/>
<line x1="629.85" y1="96.40" x2="629.85" y2="108.55" class="w"/>
<line x1="628.25" y1="96.40" x2="631.45" y2="96.40" class="c"/>
<line x1="629.85" y1="132.90" x2="629.85" y2="141.40" class="w"/>
<line x1="628.25" y1="141.40" x2="631.45" y2="141.40" class="c"/>
<rect x="627.70" y="108.55" width="4.30" height="24.35" fill="#68ea38" stroke="#20381a" class="b"/>
<line x1="627.70" y1="128.90" x2="632.00" y2="128.90" class="m"/>
<line x1="635.15" y1="130.60" x2="635.15" y2="138.45" class="w"/>
<line x1="633.55" y1="130.60" x2="636.75" y2="130.60" class="c"/>
<line x1="635.15" y1="147.60" x2="635.15" y2="152.10" class="w"/>
<line x1="633.55" y1="152.10" x2="636.75" y2="152.10" class="c"/>
<rect x="633.00" y="138.45" width="4.30" height="9.15" fill="#e6182e" stroke="#400810" class="b"/>
<line x1="633.00" y1="144.40" x2="637.30" y2="144.40" class="m"/>
<line x1="645.65" y1="116.40" x2="645.65" y2="117.95" class="w"/>
<line x1="644.05" y1="116.40" x2="647.25" y2="116.40" class="c"/>
<line x1="645.65" y1="127.10" x2="645.65" y2="139.30" class="w"/>
<line x1="644.05" y1="139.30" x2="647.25" y2="139.30" class="c"/>
<rect x="643.50" y="117.95" width="4.30" height="9.15" fill="#ecf840" stroke="#34341e" class="b"/>
<line x1="643.50" y1="119.60" x2="647.80" y2="119.60" class="m"/>
<line x1="650.95" y1="120.10" x2="650.95" y2="144.75" class="w"/>
<line x1="649.35" y1="120.10" x2="652.55" y2="120.10" class="c"/>
<line x1="650.95" y1="163.40" x2="650.95" y2="171.50" class="w"/>
<line x1="649.35" y1="171.50" x2="652.55" y2="171.50" class="c"/>
<rect x="648.80" y="144.75" width="4.30" height="18.65" fill="#fc28c8" stroke="#401434" class="b"/>
<line x1="648.80" y1="151.40" x2="653.10" y2="151.40" class="m"/>
<line x1="656.25" y1="99.60" x2="656.25" y2="110.55" class="w"/>
<line x1="654.65" y1="99.60" x2="657.85" y2="99.60" class="c"/>
<line x1="656.25" y1="133.80" x2="656.25" y2="146.90" class="w"/>
<line x1="654.65" y1="146.90" x2="657.85" y2="146.90" class="c"/>
<rect x="654.10" y="110.55" width="4.30" height="23.25" fill="#4866c4" stroke="#1a2244" class="b"/>
<line x1="654.10" y1="120.10" x2="658.40" y2="120.10" class="m"/>
<line x1="661.55" y1="102.10" x2="661.55" y2="117.55" class="w"/>
<line x1="659.95" y1="102.10" x2="663.15" y2="102.10" class="c"/>
<line x1="661.55" y1="135.60" x2="661.55" y2="149.40" class="w"/>
<line x1="659.95" y1="149.40" x2="663.15" y2="149.40" class="c"/>
<rect x="659.40" y="117.55" width="4.30" height="18.05" fill="#68ea38" stroke="#20381a" class="b"/>
<line x1="659.40" y1="124.20" x2="663.70" y2="124.20" class="m"/>
<line x1="666.85" y1="132.10" x2="666.85" y2="140.45" class="w"/>
<line x1="665.25" y1="132.10" x2="668.45" y2="132.10" class="c"/>
<line x1="666.85" y1="150.90" x2="666.85" y2="164.70" class="w"/>
<line x1="665.25" y1="164.70" x2="668.45" y2="164.70" class="c"/>
<rect x="664.70" y="140.45" width="4.30" height="10.45" fill="#e6182e" stroke="#400810" class="b"/>
<line x1="664.70" y1="147.10" x2="669.00" y2="147.10" class="m"/>
<circle cx="423.75" cy="74.70" r="1.9" fill="#ecf840" stroke="#34341e" stroke-width="0.8"/>
<circle cx="444.95" cy="80.20" r="1.9" fill="#e6182e" stroke="#400810" stroke-width="0.8"/>
<circle cx="466.05" cy="50.40" r="1.9" fill="#4866c4" stroke="#1a2244" stroke-width="0.8"/>
<path d="M476.65 80.60V84.60M474.92 81.60L478.38 83.60M474.92 83.60L478.38 81.60" stroke="#e6182e" stroke-width="0.75" fill="none"/>
<circle cx="460.75" cy="134.90" r="1.9" fill="#fc28c8" stroke="#401434" stroke-width="0.8"/>
<path d="M492.45 117.70V121.70M490.72 118.70L494.18 120.70M490.72 120.70L494.18 118.70" stroke="#fc28c8" stroke-width="0.75" fill="none"/>
<path d="M492.45 154.40V158.40M490.72 155.40L494.18 157.40M490.72 157.40L494.18 155.40" stroke="#fc28c8" stroke-width="0.75" fill="none"/>
<circle cx="524.15" cy="148.20" r="1.9" fill="#fc28c8" stroke="#401434" stroke-width="0.8"/>
<circle cx="555.85" cy="152.70" r="1.9" fill="#fc28c8" stroke="#401434" stroke-width="0.8"/>
<circle cx="571.75" cy="149.00" r="1.9" fill="#e6182e" stroke="#400810" stroke-width="0.8"/>
<circle cx="613.95" cy="143.50" r="1.9" fill="#ecf840" stroke="#34341e" stroke-width="0.8"/>
<rect x="276.5" y="1.5" width="52" height="76.6" rx="0.8" fill="#fff" stroke="#6a6a6a" stroke-width="1"/>
<rect x="284" y="10.0" width="9.5" height="9.5" fill="#ecf840" stroke="#34341e" stroke-width="0.9"/>
<text x="295.3" y="18.6" class="t lg">NEG</text>
<rect x="284" y="22.4" width="9.5" height="9.5" fill="#fc28c8" stroke="#401434" stroke-width="0.9"/>
<text x="295.3" y="31.0" class="t lg">POS</text>
<rect x="284" y="34.8" width="9.5" height="9.5" fill="#4866c4" stroke="#1a2244" stroke-width="0.9"/>
<text x="295.3" y="43.4" class="t lg">BVAX</text>
<rect x="284" y="47.2" width="9.5" height="9.5" fill="#68ea38" stroke="#20381a" stroke-width="0.9"/>
<text x="295.3" y="55.8" class="t lg">GEA</text>
<rect x="284" y="59.6" width="9.5" height="9.5" fill="#b01414" stroke="#300808" stroke-width="0.9"/>
<text x="295.3" y="68.2" class="t lg">NEA</text>
</svg>
</body></html>
